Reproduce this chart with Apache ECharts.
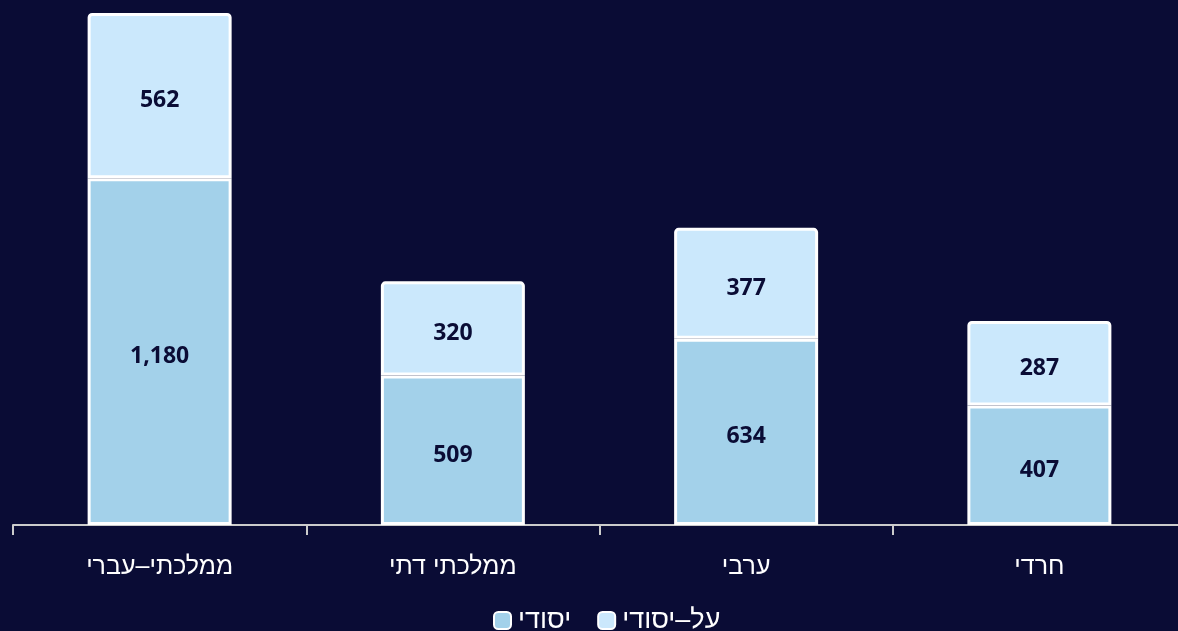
<!DOCTYPE html>
<html>
<head>
<meta charset="utf-8">
<script src="https://cdn.jsdelivr.net/npm/echarts@6/dist/echarts.min.js"></script>
<style>
html,body{margin:0;padding:0;background:#0a0c35;overflow:hidden;width:1178px;height:631px;}
#c{width:1186px;height:631px;}
</style>
</head>
<body>
<div id="c"></div>
<script>
const categories = ['ממלכתי–עברי', 'ממלכתי דתי', 'ערבי', 'חרדי'];
const elementary = [1180, 509, 634, 407];
const secondary = [562, 320, 377, 287];
const seriesNames = ['יסודי', 'על–יסודי'];

const chart = echarts.init(document.getElementById('c'));
const labelCfg = {
  show: true,
  position: 'inside',
  offset: [0, 5],
  color: '#0a0c35',
  fontFamily: 'Open Sans',
  fontWeight: 'bold',
  fontSize: 23,
  formatter: p => p.value.toLocaleString('en-US')
};
const hebFont = '"Liberation Sans", Arial, sans-serif';
chart.setOption({
  backgroundColor: '#0a0c35',
  animation: false,
  grid: { left: 13, right: 0, top: 13, bottom: 106, containLabel: false },
  legend: {
    top: 602,
    left: 488,
    itemWidth: 17,
    itemHeight: 17,
    itemGap: 26,
    icon: 'roundRect',
    textStyle: { color: '#ffffff', fontSize: 27, fontFamily: hebFont, padding: [0, 0, 0, 2] },
    data: seriesNames
  },
  xAxis: {
    type: 'category',
    data: categories,
    axisLine: { lineStyle: { color: '#cccccc', width: 2 } },
    axisTick: { show: true, length: 10, lineStyle: { color: '#cccccc', width: 2 } },
    axisLabel: { color: '#ffffff', fontSize: 25, fontFamily: hebFont, margin: 30 }
  },
  yAxis: {
    type: 'value',
    min: 0,
    max: 'dataMax',
    show: false,
    splitLine: { show: false }
  },
  series: [
    {
      name: seriesNames[0],
      type: 'bar',
      stack: 'total',
      barWidth: 144,
      data: elementary,
      itemStyle: { color: '#a3d1ea', borderColor: '#ffffff', borderWidth: 3 },
      label: labelCfg
    },
    {
      name: seriesNames[1],
      type: 'bar',
      stack: 'total',
      barWidth: 144,
      data: secondary,
      itemStyle: { color: '#cbe8fc', borderColor: '#ffffff', borderWidth: 3, borderRadius: [3, 3, 0, 0] },
      label: labelCfg
    }
  ]
});
</script>
</body>
</html>
